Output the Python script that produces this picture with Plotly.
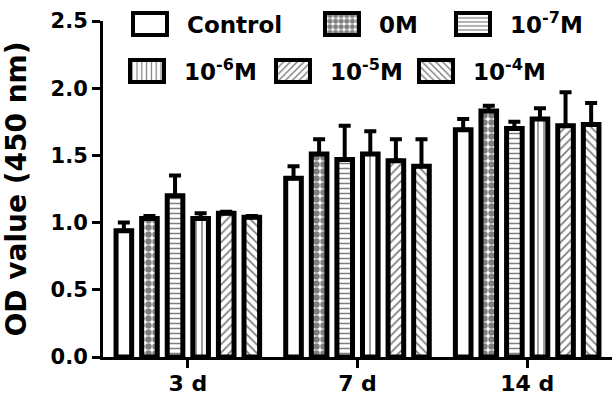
import plotly.graph_objects as go

categories = ["3 d", "7 d", "14 d"]
series_names = ["Control", "0M", "10<sup>-7</sup>M", "10<sup>-6</sup>M", "10<sup>-5</sup>M", "10<sup>-4</sup>M"]

control = [0.94, 1.33, 1.69]
control_err = [0.06, 0.09, 0.08]
m0 = [1.03, 1.51, 1.83]
m0_err = [0.02, 0.11, 0.04]
m7 = [1.20, 1.47, 1.70]
m7_err = [0.15, 0.25, 0.05]
m6 = [1.03, 1.51, 1.77]
m6_err = [0.04, 0.17, 0.08]
m5 = [1.07, 1.46, 1.72]
m5_err = [0.01, 0.16, 0.25]
m4 = [1.04, 1.42, 1.73]
m4_err = [0.01, 0.20, 0.16]

y_ticks = [0.0, 0.5, 1.0, 1.5, 2.0, 2.5]

values = [control, m0, m7, m6, m5, m4]
errors = [control_err, m0_err, m7_err, m6_err, m5_err, m4_err]
patterns = [
    dict(shape=""),
    dict(shape=".", size=7, solidity=0.65, fgcolor="black", bgcolor="white"),
    dict(shape="-", size=5, solidity=0.3, fgcolor="black", bgcolor="white"),
    dict(shape="|", size=6, solidity=0.25, fgcolor="black", bgcolor="white"),
    dict(shape="/", size=6, solidity=0.3, fgcolor="black", bgcolor="white"),
    dict(shape="\\", size=6, solidity=0.3, fgcolor="black", bgcolor="white"),
]

FONT = "DejaVu Sans"

# legend placement (paper coords) per item
L, T, W, H = 103, 21, 509, 336.5
def px_x(p):
    return (p - L) / W
def px_y(p):
    return 1 - (p - T) / H
legend_text_x = [187, 379, 510, 184, 330, 473]
legend_row_y = [24, 24, 24, 71, 71, 71]

fig = go.Figure()
for i, (name, v, e, pat) in enumerate(zip(series_names, values, errors, patterns)):
    lg = "legend" if i == 0 else f"legend{i+1}"
    fig.add_trace(go.Bar(
        x=categories, y=v, name=name,
        marker=dict(color="white", line=dict(color="black", width=5), pattern=pat),
        error_y=dict(type="data", array=e, arrayminus=[0] * len(e), symmetric=False,
                     color="black", thickness=4, width=6),
        legend=lg, showlegend=True,
    ))

legend_common = dict(bgcolor="rgba(0,0,0,0)", borderwidth=0, xanchor="left", yanchor="middle",
                     itemwidth=60,
                     font=dict(family=FONT, size=23, color="black", weight="bold"))
layout_legends = {}
for i in range(6):
    key = "legend" if i == 0 else f"legend{i+1}"
    layout_legends[key] = dict(x=px_x(legend_text_x[i] - 70), y=px_y(legend_row_y[i]), **legend_common)

fig.update_layout(
    width=612, height=397, showlegend=True,
    margin=dict(l=103, r=0, t=21, b=39.5, autoexpand=False),
    paper_bgcolor="white", plot_bgcolor="white",
    font=dict(family=FONT, color="black", weight="bold"),
    barmode="group", bargap=0.095, bargroupgap=0.39,
    **layout_legends,
)
fig.update_xaxes(
    range=[-0.5, 2.5], showline=True, linecolor="black", linewidth=3,
    ticks="outside", ticklen=8, tickwidth=2.5, tickcolor="black",
    tickfont=dict(size=22, family=FONT, weight="bold"),
    ticklabelstandoff=-3,
    showgrid=False, zeroline=False,
)
fig.update_yaxes(
    range=[0, 2.5], tickvals=y_ticks, tickformat=".1f",
    showline=True, linecolor="black", linewidth=3,
    ticks="outside", ticklen=8, tickwidth=2.5, tickcolor="black",
    tickfont=dict(size=21, family=FONT, weight="bold"),
    showgrid=False, zeroline=False,
    title=dict(text="OD value (450 nm)", standoff=16,
               font=dict(size=28, family=FONT, weight="bold")),
)

post = """
document.body.style.margin='0';
document.documentElement.style.margin='0';
var gd = document.getElementById('{plot_id}');
function fixLegend(){
  gd.querySelectorAll('.legendpoints path').forEach(function(p){
    p.setAttribute('d','M15,11H-19V-11H15Z');
    p.style.strokeWidth='4px';
    p.style.stroke='black';
  });
}
fixLegend();
gd.on('plotly_afterplot', fixLegend);
"""
fig.write_html("out.html", post_script=post, config={"displayModeBar": False})
